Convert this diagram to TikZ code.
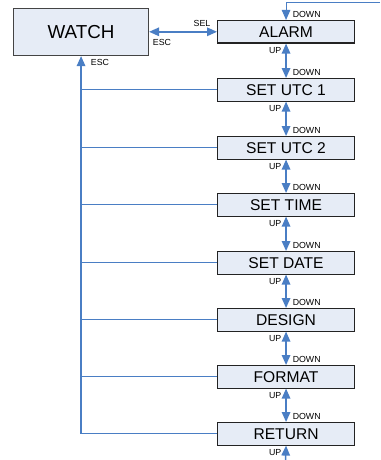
\documentclass[tikz,border=0pt]{standalone}
\usepackage{fontspec}
\setmainfont{Liberation Sans}
\usetikzlibrary{arrows.meta}
\definecolor{boxfill}{RGB}{230,236,246}
\definecolor{boxline}{RGB}{35,35,35}
\definecolor{arrblue}{RGB}{74,126,196}
\begin{document}
\begin{tikzpicture}[x=1pt,y=-1pt,
  menubox/.style={draw=boxline,fill=boxfill,line width=1.1pt,minimum width=137pt,minimum height=22.5pt,inner sep=0pt,anchor=north west,font=\fontsize{15.6}{16}\selectfont},
  watchbox/.style={draw=boxline!85,fill=boxfill,line width=1.1pt,minimum width=135pt,minimum height=47pt,inner sep=0pt,anchor=north west,font=\fontsize{18.8}{20}\selectfont},
  arr/.style={draw=arrblue,line width=1.5pt,-{Triangle[length=10pt,width=8.5pt]}},
  darr/.style={draw=arrblue,line width=1.5pt,{Triangle[length=10pt,width=8.5pt]}-{Triangle[length=10pt,width=8.5pt]}},
  thinline/.style={draw=arrblue,line width=0.9pt},
  lbl/.style={inner sep=0pt,font=\fontsize{8.8}{9}\selectfont}
]
\useasboundingbox (0,0) rectangle (380,460);
\node[watchbox] (watch) at (13,8) {WATCH};
\node[menubox] (alarm)  at (217,20)  {ALARM};
\node[menubox] (utc1)   at (217,78)  {SET UTC 1};
\node[menubox] (utc2)   at (217,136) {SET UTC 2};
\node[menubox] (time)   at (217,193) {SET TIME};
\node[menubox] (date)   at (217,251) {SET DATE};
\node[menubox] (design) at (217,308) {DESIGN};
\node[menubox] (format) at (217,365) {FORMAT};
\node[menubox] (ret)    at (217,422) {RETURN};
% top loop and bottom exit
\coordinate (tr) at (380,3);
\coordinate (bot) at (285.5,462);
\draw[arr,line width=1pt] (tr) -| (alarm.north);
\draw[arr] (bot) -- (ret.south);
% vertical double arrows
\foreach \a/\b in {alarm/utc1,utc1/utc2,utc2/time,time/date,date/design,design/format,format/ret}{
  \draw[darr] (\a.south) -- (\b.north);
}
% labels DOWN and UP
\foreach \n in {alarm,utc1,utc2,time,date,design,format,ret}{
  \node[lbl,anchor=south west] (d\n) at ([xshift=6.5pt,yshift=2pt]\n.north) {DOWN};
  \node[lbl,anchor=north east] (u\n) at ([xshift=-4.5pt,yshift=-3.5pt]\n.south) {UP};
}
% SEL / ESC arrow
\draw[darr] (watch.east |- alarm.west) -- (alarm.west);
\node[lbl] (sel) at (202,23) {SEL};
\node[lbl] (esc1) at (162,42) {ESC};
% ESC back line
\draw[arr] (watch.south |- ret.west) -- (watch.south);
\node[lbl] (esc2) at (100,62) {ESC};
\foreach \n in {utc1,utc2,time,date,design,format,ret}{
  \draw[thinline] (\n.west) -- (watch.south |- \n.west);
}
\end{tikzpicture}
\end{document}
